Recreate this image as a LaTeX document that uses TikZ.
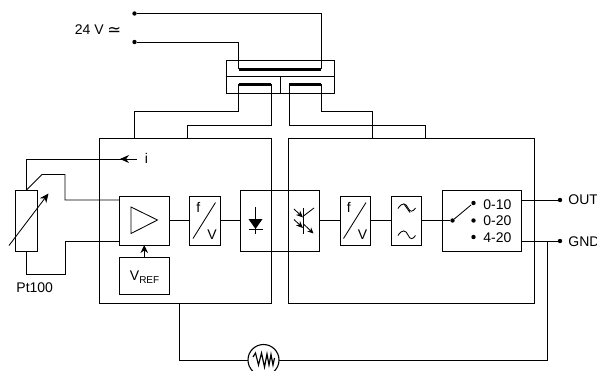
\documentclass[tikz,border=0pt]{standalone}
\usepackage{fontspec}
\setmainfont{Liberation Sans}
\newfontfamily\symfont{DejaVu Sans}
\usetikzlibrary{arrows.meta}
\tikzset{
 ln/.style={line width=0.85pt,black,line join=miter},
 boxn/.style={draw,line width=0.85pt,inner sep=0pt,outer sep=0pt,anchor=north west},
 barline/.style={line width=3pt,line cap=butt},
 lab/.style={font=\fontsize{14}{15}\selectfont,inner sep=0pt,anchor=base west},
 dotn/.style={circle,fill=black,inner sep=0pt,minimum size=4.4pt,outer sep=0pt},
 tip/.style={-{Stealth[length=9pt,width=8pt]}},
}
\begin{document}
\begin{tikzpicture}[x=1pt,y=-1pt,ln]
\useasboundingbox (0,0) rectangle (597,370);
% outer blocks
\node[boxn,minimum width=171.5pt,minimum height=165pt] (L) at (99.5,138) {};
\node[boxn,minimum width=246pt,minimum height=165pt] (R) at (288.5,138) {};
% transformer
\node[boxn,minimum width=107.5pt,minimum height=33.5pt] (T) at (226.5,60) {};
\coordinate (Tm) at (226.5,76.5);
\coordinate (Tme) at (334,76.5);
\draw (Tm) -- (Tme);
\coordinate (Td1) at (280.5,76.5); \coordinate (Td2) at (280.5,93.5);
\draw (Td1) -- (Td2);
\coordinate (pa) at (238.5,69); \coordinate (pb) at (321,69);
\coordinate (sa) at (238.5,84); \coordinate (sb) at (271,84);
\coordinate (sc) at (289,84); \coordinate (sd) at (321,84);
\draw[barline] (pa) -- (pb);
\draw[barline] (sa) -- (sb);
\draw[barline] (sc) -- (sd);
% supply
\node[dotn] (s1) at (134.5,13.5) {};
\node[dotn] (s2) at (134.5,42) {};
\draw (s1) -- (pb |- s1) -- (pb);
\draw (s2) -- (pa |- s2) -- (pa);
\node[lab] (v24) at (74.5,34.5) {24 V};
\node[lab,font=\symfont\fontsize{16.5}{17}\selectfont] (v24s) at (107,35.5) {≃};
% secondary wires
\coordinate (w1) at (134.5,138); \coordinate (w2) at (187,138);
\coordinate (w3) at (372.5,138); \coordinate (w4) at (425,138);
\draw (sa) -- (238.5,111) -- (134.5,111) -- (w1);
\draw (sb) -- (271,125) -- (187,125) -- (w2);
\draw (sc) -- (289,125) -- (425,125) -- (w4);
\draw (sd) -- (321,111) -- (372.5,111) -- (w3);
% Pt100
\node[boxn,minimum width=22pt,minimum height=61pt] (pt) at (15.5,190) {};
\node[lab] (ptl) at (16,292) {Pt100};
\coordinate (rs) at (9,245.5); \coordinate (re) at (48.5,193.5);
\draw[tip] (rs) -- (re);
% amplifier etc
\node[boxn,minimum width=49.5pt,minimum height=49pt] (amp) at (119.5,196) {};
\draw (131,207) -- (131,233.5) -- (157.5,220) -- cycle;
\node[boxn,minimum width=49.5pt,minimum height=36.5pt] (vref) at (119.5,257.5) {};
\node[lab] (vt) at (129.5,280) {V\raisebox{-3.2pt}{\fontsize{10}{10}\selectfont REF}};
\draw[-{Stealth[length=8pt,width=7.5pt]}] (vref.north) -- (amp.south);
% wires to Pt100
\coordinate (pttop) at (26.5,190); \coordinate (ptbot) at (26.5,251);
\coordinate (ie) at (136.5,159);
\node[lab] (il) at (144.5,163.5) {i};
\draw (pttop) -- (26.5,159) -- (ie);
\coordinate (itip) at (120,159);
\draw[-{Stealth[length=9pt,width=8pt]}] (ie) -- (itip);
\draw (pttop) -- (42,174.5) -- (65,174.5) -- (65,200) -- (119.5,200);
\draw (ptbot) -- (26.5,274) -- (65,274) -- (65,241) -- (119.5,241);
% f/V left
\node[boxn,minimum width=30.5pt,minimum height=49pt] (fv1) at (189.5,196) {};
\draw (193,238.5) -- (215.5,202.5);
\node[lab] (f1) at (196,212) {f};
\node[lab] (v1) at (207,239) {V};
% opto
\node[boxn,minimum width=79pt,minimum height=61pt] (opto) at (240.5,190) {};
\draw (255.5,207) -- (255.5,234);
\fill (248.5,219) -- (262.5,219) -- (255.5,229) -- cycle;
\draw (248.5,229) -- (262.5,229);
% phototransistor
\draw (303.5,208) -- (303.5,233.5);
\draw (303.5,216) -- (314,208);
\draw[-{Stealth[length=6pt,width=5.5pt]}] (303.5,224) -- (313.5,233.5);
\draw[-{Stealth[length=7pt,width=6pt]}] (294,209) -- (303,217.5);
\draw[-{Stealth[length=7pt,width=6pt]}] (294,219.5) -- (303,228);
% f/V right
\node[boxn,minimum width=30.5pt,minimum height=49pt] (fv2) at (340,196) {};
\draw (343.5,238.5) -- (366,202.5);
\node[lab] (f2) at (346.5,212) {f};
\node[lab] (v2) at (357.5,239) {V};
% filter
\node[boxn,minimum width=30.5pt,minimum height=49pt] (fil) at (391,196) {};
\draw (398,208.5) .. controls (402,202) and (406,203) .. (408,208) .. controls (410,212.5) and (413,212) .. (415.5,208);
\draw (404,204) -- (410,212.5);
\draw (398,235.5) .. controls (402,229) and (406,230) .. (408,235) .. controls (410,240) and (413,239.5) .. (415.5,235.5);
% switch
\node[boxn,minimum width=79.5pt,minimum height=61pt] (sw) at (442,190) {};
\node[dotn] (c0) at (452.5,220.5) {};
\node[dotn] (c1) at (473.5,203) {};
\node[dotn] (c2) at (473.5,220.5) {};
\node[dotn] (c3) at (473.5,237) {};
\draw (c0) -- (471,205);
\node[lab] (t1) at (483,209) {0-10};
\node[lab] (t2) at (483,225.5) {0-20};
\node[lab] (t3) at (483,242) {4-20};
% signal line
\draw (amp.east) -- (fv1.west);
\draw (fv1.east) -- (opto.west);
\draw (opto.east) -- (fv2.west);
\draw (fv2.east) -- (fil.west);
\draw (fil.east) -- (c0);
% outputs
\node[dotn] (o) at (560,200) {};
\node[dotn] (g) at (560,241) {};
\draw (521.5,200) -- (o);
\draw (521.5,241) -- (g);
\node[lab] (ot) at (568,204.5) {OUT};
\node[lab] (gt) at (568,246) {GND};
% thermistor loop
\node[circle,draw,line width=1.1pt,minimum size=31pt,inner sep=0pt,outer sep=0pt] (th) at (263.5,360) {};
\coordinate (gj) at (547.5,241);
\coordinate (lb) at (179.5,303);
\draw (gj) -- (547.5,360) -- (th.east);
\draw (lb) -- (179.5,360) -- (th.west);
\draw[line width=1.2pt,line join=miter] (253,357) -- (255.5,353) -- (258.5,365) -- (261.5,353) -- (264.5,367) -- (267,354) -- (269,365) -- (271,354.5) -- (273,365) -- (274.5,358);
\end{tikzpicture}
\end{document}
